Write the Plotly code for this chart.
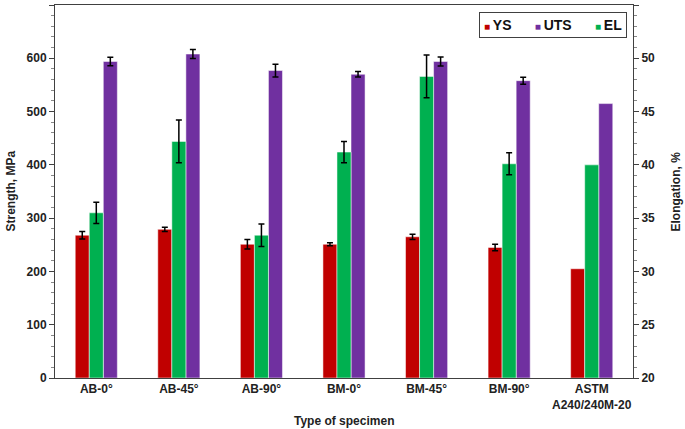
import plotly.graph_objects as go

categories = ["AB-0°", "AB-45°", "AB-90°", "BM-0°", "BM-45°", "BM-90°", "ASTM<br>A240/240M-20"]
ys = [268, 279, 251, 251, 265, 245, 205]
ys_err = [7, 4, 9, 3, 5, 6, 0]
uts = [594, 608, 577, 570, 594, 558, 515]
uts_err = [8, 8.5, 12, 5, 8.5, 6.5, 0]
el = [35.5, 42.2, 33.4, 41.2, 48.3, 40.1, 40.0]
el_err = [1.0, 2.0, 1.05, 1.0, 2.0, 1.03, 0]
EL_BASE = 20

RED = "#C00000"
PURPLE = "#7030A0"
GREEN = "#00B050"
AX = "#404040"
FONT = "Liberation Sans"
TXT = "#222222"

def eb(arr):
    return dict(type="data", array=arr, visible=True, color="black", thickness=1.5, width=3)

edge = dict(color="rgba(255,255,255,0.5)", width=1)
fig = go.Figure()
# measured specimens (with error bars) and the ASTM reference (no error bars)
n = 6
for sl, with_err in ((slice(0, n), True), (slice(n, None), False)):
    fig.add_trace(go.Bar(name="YS", x=categories[sl], y=ys[sl],
                         error_y=eb(ys_err[sl]) if with_err else None,
                         marker=dict(color=RED, line=edge), width=0.17, offset=-0.255, yaxis="y"))
    fig.add_trace(go.Bar(name="UTS", x=categories[sl], y=uts[sl],
                         error_y=eb(uts_err[sl]) if with_err else None,
                         marker=dict(color=PURPLE, line=edge), width=0.17, offset=0.085, yaxis="y"))
    fig.add_trace(go.Bar(name="EL", x=categories[sl], y=[v - EL_BASE for v in el[sl]], base=EL_BASE,
                         error_y=eb(el_err[sl]) if with_err else None,
                         marker=dict(color=GREEN, line=edge), width=0.17, offset=-0.085, yaxis="y2"))

tickfont = dict(family=FONT, size=12, color=TXT)
fig.update_layout(
    width=685, height=429,
    margin=dict(l=55, r=52, t=5, b=51, autoexpand=False),
    barmode="overlay",
    plot_bgcolor="white", paper_bgcolor="white",
    font=dict(family=FONT, size=12, color=TXT),
    showlegend=False,
    xaxis=dict(showline=True, linecolor=AX, linewidth=1, mirror=True, ticks="",
               tickfont=tickfont, showgrid=False, automargin=False,
               categoryorder="array", categoryarray=categories),
    yaxis=dict(range=[0, 700], dtick=100, showline=True, linecolor=AX, linewidth=1,
               ticks="outside", ticklen=5, tickcolor=AX, showgrid=False, zeroline=False,
               minor=dict(dtick=20, ticks="outside", ticklen=3, tickcolor="#888888"),
               tickfont=tickfont, automargin=False),
    yaxis2=dict(range=[20, 55], dtick=5, overlaying="y", side="right", showline=True,
                linecolor=AX, linewidth=1,
                ticks="outside", ticklen=5, tickcolor=AX, showgrid=False, zeroline=False,
                minor=dict(dtick=1, ticks="outside", ticklen=3, tickcolor="#888888"),
                tickfont=tickfont, automargin=False),
)
fig.update_xaxes(tickprefix="<b>", ticksuffix="</b>")
fig.update_yaxes(tickprefix="<b>", ticksuffix="</b>")

titlefont = dict(family=FONT, size=12, color=TXT)
fig.add_annotation(text="<b>Type of specimen</b>", xref="paper", yref="paper", x=0.5, y=0,
                   yshift=-43, xanchor="center", yanchor="middle", showarrow=False, font=titlefont)
fig.add_annotation(text="<b>Strength, MPa</b>", xref="paper", yref="paper", x=0, y=0.5,
                   xshift=-45, textangle=-90, xanchor="center", yanchor="middle",
                   showarrow=False, font=titlefont)
fig.add_annotation(text="<b>Elongation, %</b>", xref="paper", yref="paper", x=1, y=0.5,
                   xshift=42, textangle=-90, xanchor="center", yanchor="middle",
                   showarrow=False, font=titlefont)

sq = "<span style='font-size:10px'>■&nbsp;</span>"
gap = "&nbsp;" * 6
legend_text = ("<span style='color:%s'>%s</span><b>YS</b>%s"
               "<span style='color:%s'>%s</span><b>UTS</b>%s"
               "<span style='color:%s'>%s</span><b>EL</b>") % (RED, sq, gap, PURPLE, sq, gap, GREEN, sq)
fig.add_annotation(text=legend_text, xref="paper", yref="paper", x=0.99, y=0.982,
                   xanchor="right", yanchor="top", showarrow=False,
                   font=dict(family=FONT, size=14, color="#111111"),
                   bordercolor=AX, borderwidth=1, borderpad=4, bgcolor="white")
fig.write_html("out.html", config={"displayModeBar": False},
               post_script="document.body.style.margin='0';")
